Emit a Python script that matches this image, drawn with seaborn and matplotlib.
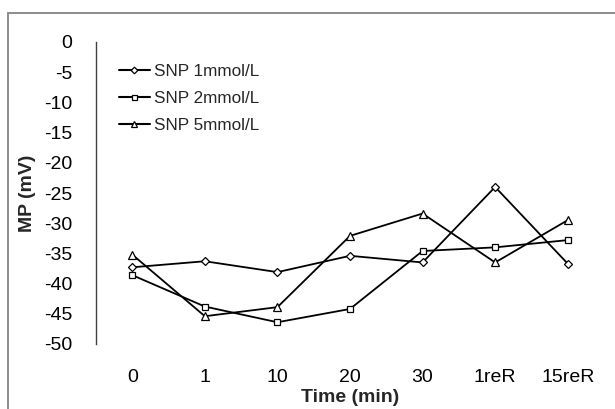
import pandas as pd
import matplotlib
matplotlib.use("Agg")
import matplotlib.pyplot as plt
import seaborn as sns
from matplotlib.lines import Line2D

# Values
times = ['0', '1', '10', '20', '30', '1reR', '15reR']
snp_1mmol = [-37.3, -36.3, -38.1, -35.4, -36.5, -24.0, -36.7]
snp_2mmol = [-38.6, -43.8, -46.4, -44.2, -34.6, -34.0, -32.8]
snp_5mmol = [-35.2, -45.4, -43.9, -32.1, -28.4, -36.5, -29.5]
series_names = ['SNP 1mmol/L', 'SNP 2mmol/L', 'SNP 5mmol/L']
y_ticks = list(range(-50, 1, 5))

rows = []
for name, vals in zip(series_names, [snp_1mmol, snp_2mmol, snp_5mmol]):
    for t, v in zip(times, vals):
        rows.append({'Time': t, 'MP': v, 'Series': name})
df = pd.DataFrame(rows)

sns.set_style('white')
plt.rcParams['font.family'] = ['Liberation Sans', 'DejaVu Sans']

fig = plt.figure(figsize=(6.15, 4.09), dpi=100)
ax = fig.add_axes([96 / 615, 1 - 344 / 409, 508 / 615, 302 / 409])

markers = ['D', 's', '^']
sizes = [4.2, 4.5, 5.8]
sns.lineplot(data=df, x='Time', y='MP', style='Series', markers=markers,
             dashes=False, color='black', sort=False, legend=False, ax=ax,
             linewidth=1.3, markersize=5, markerfacecolor='white',
             markeredgecolor='black', markeredgewidth=0.9)
for line, ms in zip(ax.lines, sizes):
    line.set_markersize(ms)

ax.set_xlim(-0.5, len(times) - 0.5)
ax.set_ylim(-50, 0)
ax.set_yticks(y_ticks)
ax.set_yticklabels([str(v) for v in y_ticks])
ax.tick_params(axis='both', length=0, labelsize=14, colors='black')
ax.tick_params(axis='y', pad=17)
ax.tick_params(axis='x', pad=18)

for side in ['top', 'right', 'bottom']:
    ax.spines[side].set_visible(False)
ax.spines['left'].set_color('#404040')
ax.spines['left'].set_linewidth(1.0)

ax.set_xlabel('Time (min)', fontsize=14, fontweight='bold', labelpad=2)
ax.set_ylabel('MP (mV)', fontsize=14, fontweight='bold', labelpad=6)

handles = [Line2D([], [], color='black', linewidth=1.5, marker=m, markersize=ms * 0.8,
                  markerfacecolor='white', markeredgecolor='black', markeredgewidth=0.9)
           for m, ms in zip(markers, sizes)]
ax.legend(handles, series_names, loc='upper left', bbox_to_anchor=(0.045, 0.928),
          frameon=False, fontsize=12.3, handlelength=1.8, handletextpad=0.25,
          labelspacing=0.7, borderpad=0, borderaxespad=0)

# gray outer frame (top and left edges visible in the reference)
fig.add_artist(Line2D([8 / 615, 1.0], [1 - 13 / 409, 1 - 13 / 409],
                      color='#8c8c8c', linewidth=1.4, transform=fig.transFigure))
fig.add_artist(Line2D([8 / 615, 8 / 615], [0.0, 1 - 13 / 409],
                      color='#8c8c8c', linewidth=1.4, transform=fig.transFigure))

fig.savefig('out.png', dpi=100)
